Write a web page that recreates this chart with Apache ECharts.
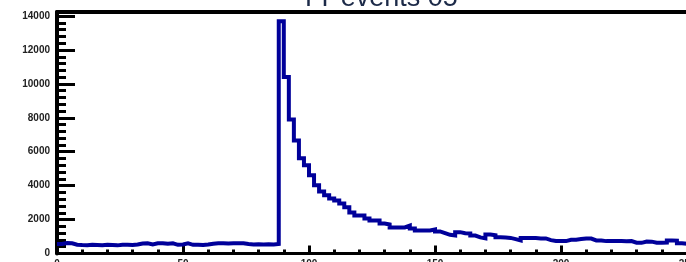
<!DOCTYPE html>
<html>
<head>
<meta charset="utf-8">
<script src="https://cdn.jsdelivr.net/npm/echarts@6.0.0/dist/echarts.min.js"></script>
</head>
<body style="margin: 0; overflow: hidden; background: #fff">
<div id="container" style="width: 700px; height: 290px"></div>
<script type="text/javascript">
    // histogram, 125 bins of width 2 from 0 to 250
    var title = 'TT events 05';
    var xMin = 0, xMax = 250, binWidth = 2;
    var counts = [
        560, 620, 600, 520, 500, 490, 510, 500, 490, 520,
        500, 480, 520, 510, 500, 530, 590, 600, 540, 600,
        610, 570, 600, 510, 530, 600, 510, 520, 500, 530,
        580, 600, 610, 590, 600, 610, 600, 560, 530, 540,
        530, 540, 530, 560, 13700, 10400, 7900, 6670, 5610, 5200,
        4610, 4020, 3660, 3430, 3250, 3130, 2950, 2720, 2420, 2240,
        2240, 2070, 1950, 1950, 1770, 1710, 1540, 1540, 1540, 1650,
        1480, 1360, 1360, 1360, 1420, 1300, 1200, 1100, 1060, 1260,
        1200, 1180, 1060, 950, 890, 1120, 1080, 960, 940, 920,
        850, 770, 920, 920, 910, 890, 890, 790, 740, 730,
        730, 810, 810, 850, 890, 880, 770, 770, 730, 730,
        730, 730, 720, 730, 640, 630, 710, 700, 640, 630,
        640, 770, 760, 600, 570
    ];
    var xTickStep = 50;
    var yTickStep = 2000;
    var yMax = 14240;

    var points = [];
    for (var i = 0; i < counts.length; i++) {
        points.push([xMin + i * binWidth, counts[i]]);
    }
    points.push([xMin + counts.length * binWidth, counts[counts.length - 1]]);

    var myChart = echarts.init(document.getElementById('container'), null, {renderer: 'canvas'});
    var labelFont = {color: '#222', fontSize: 10, fontWeight: 'bold', fontFamily: 'Liberation Sans, Arial, sans-serif'};

    var option = {
        animation: false,
        graphic: [{
            type: 'text',
            x: 379,
            y: -1,
            style: {
                text: title,
                textAlign: 'center',
                textVerticalAlign: 'middle',
                font: '27px "Liberation Sans", Arial, sans-serif',
                fill: '#1c2a48'
            }
        }],
        grid: {left: 57, top: 12, width: 630, height: 241.5, outerBoundsMode: 'none'},
        xAxis: [{
            type: 'value',
            min: xMin,
            max: xMax,
            interval: xTickStep,
            axisLine: {onZero: false, lineStyle: {color: '#000', width: 3}},
            axisTick: {inside: true, length: 8, lineStyle: {color: '#000', width: 3}},
            minorTick: {show: true, splitNumber: 5, length: 4, lineStyle: {color: '#000', width: 3}},
            splitLine: {show: false},
            axisLabel: Object.assign({margin: 6}, labelFont)
        }, {
            type: 'value',
            position: 'top',
            min: xMin,
            max: xMax,
            axisLine: {onZero: false, lineStyle: {color: '#000', width: 4}},
            axisTick: {show: false},
            axisLabel: {show: false},
            splitLine: {show: false}
        }],
        yAxis: {
            type: 'value',
            min: 0,
            max: yMax,
            interval: yTickStep,
            axisLine: {show: true, onZero: false, lineStyle: {color: '#000', width: 4}},
            axisTick: {inside: true, length: 18, lineStyle: {color: '#000', width: 3}},
            minorTick: {show: true, splitNumber: 5, length: 9, lineStyle: {color: '#000', width: 3}},
            splitLine: {show: false},
            axisLabel: Object.assign({
                margin: 7,
                formatter: function (v) { return v % yTickStep === 0 ? String(v) : ''; }
            }, labelFont)
        },
        series: [{
            type: 'line',
            step: 'end',
            data: points,
            symbol: 'none',
            clip: true,
            lineStyle: {color: '#00009a', width: 4, join: 'miter', cap: 'butt'}
        }]
    };

    myChart.setOption(option);
</script>
</body>
</html>
